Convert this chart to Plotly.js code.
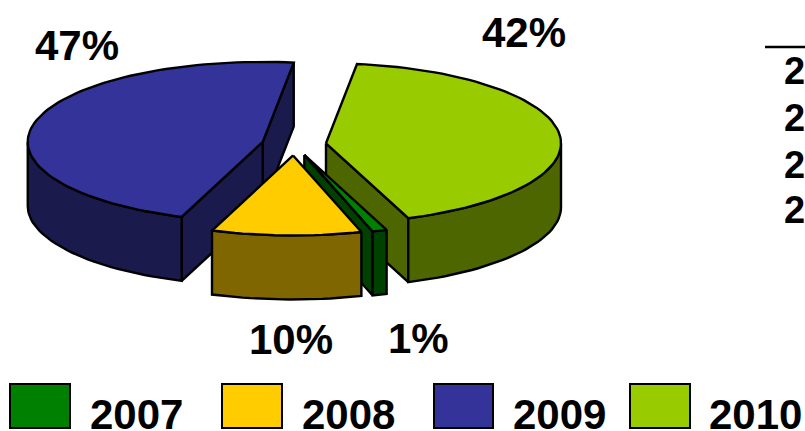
<!DOCTYPE html>
<html>
<head>
<meta charset="utf-8">
<script src="https://cdn.plot.ly/plotly-3.0.1.min.js"></script>
<style>html,body{margin:0;padding:0;background:#fff;overflow:hidden}</style>
</head>
<body>
<div id="chart" style="width:805px;height:431px"></div>
<script>
// Data
const categories = ["2007", "2008", "2009", "2010"];
const shares = [1.0, 10.3, 46.5, 42.2];
const topColors = ["#008000", "#FFCC00", "#333399", "#99CC00"];
const sideColors = ["#004000", "#806600", "#1A1A4D", "#4D6600"];
const clippedTableLabels = ["2", "2", "2", "2"];

// Pie projection
const cx = 294, cy = 144.5, rx = 235, ry = 80, depth = 64, explode = 0.137, startDeg = 69.5;
const drawOrder = [2, 3, 0, 1];
const rad = d => d * Math.PI / 180;
const total = shares.reduce((a, b) => a + b, 0);

let acc = startDeg;
const spans = shares.map(v => { const s = acc; acc += v / total * 360; return [s, acc]; });

const traces = [];
function poly(pts, fill) {
  const xs = pts.map(p => p[0]).concat([pts[0][0]]);
  const ys = pts.map(p => p[1]).concat([pts[0][1]]);
  traces.push({type: "scatter", mode: "lines", x: xs, y: ys, fill: "toself", fillcolor: fill,
    line: {color: "#000", width: 2.4}, hoverinfo: "skip", showlegend: false});
}
function arc(ax, ay, a0, a1, dy) {
  const out = [], n = Math.max(2, Math.ceil(Math.abs(a1 - a0) / 2));
  for (let i = 0; i <= n; i++) {
    const t = rad(a0 + (a1 - a0) * i / n);
    out.push([ax + rx * Math.cos(t), ay + ry * Math.sin(t) + dy]);
  }
  return out;
}
drawOrder.forEach(i => {
  const [s, e] = spans[i], mid = rad((s + e) / 2);
  const ax = cx + explode * rx * Math.cos(mid), ay = cy + explode * ry * Math.sin(mid);
  const cut = a => {
    const p = arc(ax, ay, a, a, 0)[0];
    poly([[ax, ay], p, [p[0], p[1] + depth], [ax, ay + depth]], sideColors[i]);
  };
  if (Math.cos(rad(e)) > 0) cut(e);
  if (Math.cos(rad(s)) < 0) cut(s);
  [0, 360].forEach(off => {
    const a0 = Math.max(s, off), a1 = Math.min(e, off + 180);
    if (a1 > a0) poly(arc(ax, ay, a0, a1, 0).concat(arc(ax, ay, a1, a0, depth)), sideColors[i]);
  });
  poly([[ax, ay]].concat(arc(ax, ay, s, e, 0)), topColors[i]);
});

// Text and legend placement
const font = {family: "Liberation Sans, Arial, sans-serif", size: 42, color: "#000"};
const labelPos = [[418, 338], [291, 339], [77, 45], [524, 32]];
const swatchX = [[10, 70], [222, 282], [434, 493], [630, 690]];
const legendTextX = [136, 348, 559, 755];
const tableY = [71, 118, 165, 210];

const annotations = [];
shares.forEach((v, i) => annotations.push({x: labelPos[i][0], y: labelPos[i][1], text: "<b>" + Math.round(v) + "%</b>",
  showarrow: false, font: font, xanchor: "center", yanchor: "middle"}));
categories.forEach((c, i) => annotations.push({x: legendTextX[i], y: 414, text: "<b>" + c + "</b>",
  showarrow: false, font: font, xanchor: "center", yanchor: "middle"}));
clippedTableLabels.forEach((c, i) => annotations.push({x: 794, y: tableY[i], text: "<b>" + c + "</b>",
  showarrow: false, font: {...font, size: 38}, xanchor: "center", yanchor: "middle"}));

const shapes = categories.map((c, i) => ({type: "rect", x0: swatchX[i][0], x1: swatchX[i][1], y0: 384, y1: 428,
  fillcolor: topColors[i], line: {color: "#000", width: 2}}));
shapes.push({type: "line", x0: 765, x1: 805, y0: 47, y1: 47, line: {color: "#000", width: 2.5}});

Plotly.newPlot("chart", traces, {
  width: 805, height: 431, margin: {l: 0, r: 0, t: 0, b: 0},
  paper_bgcolor: "#fff", plot_bgcolor: "#fff", showlegend: false,
  xaxis: {range: [0, 805], visible: false, fixedrange: true},
  yaxis: {range: [431, 0], visible: false, fixedrange: true},
  annotations: annotations, shapes: shapes
}, {displayModeBar: false, staticPlot: true});
</script>
</body>
</html>
